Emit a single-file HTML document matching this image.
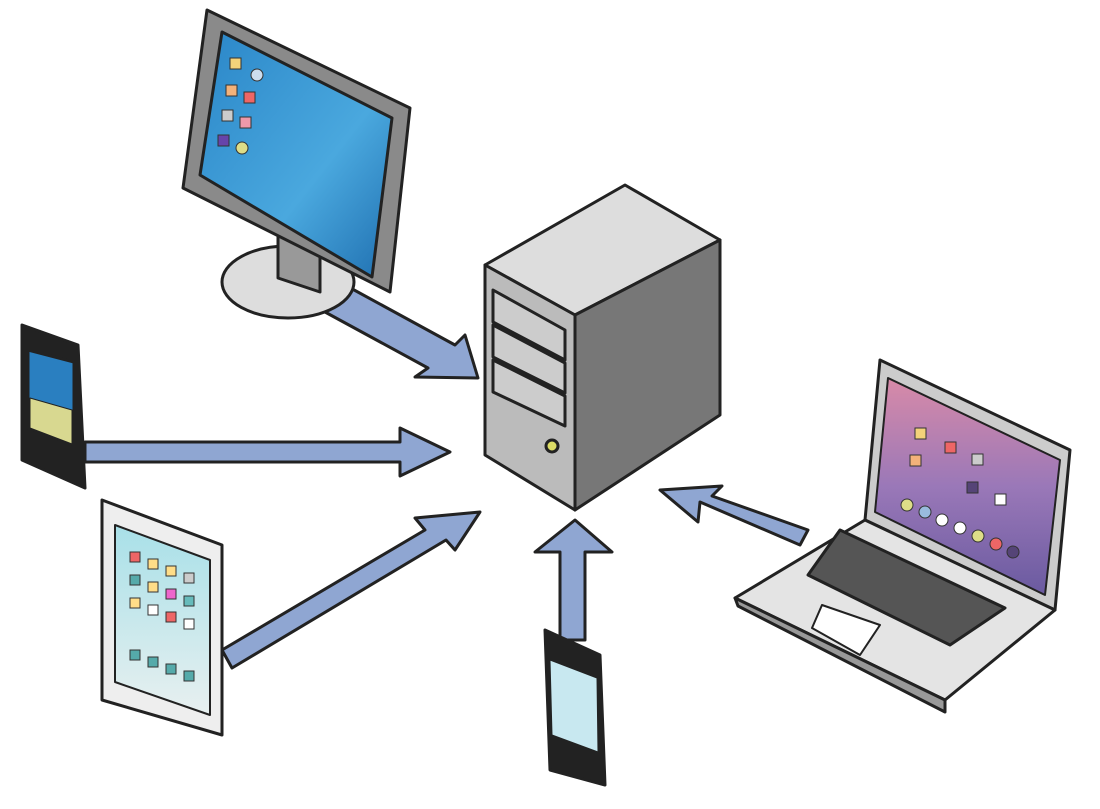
<!DOCTYPE html>
<html><head><meta charset="utf-8"><style>
html,body{margin:0;padding:0;background:#fff;width:1100px;height:809px;overflow:hidden}
</style></head><body>
<svg width="1100" height="809" viewBox="0 0 1100 809" xmlns="http://www.w3.org/2000/svg">
<defs>
<linearGradient id="scr" x1="0" y1="0" x2="1" y2="1"><stop offset="0" stop-color="#2a86c8"/><stop offset="0.6" stop-color="#4aa8de"/><stop offset="1" stop-color="#1f6fb0"/></linearGradient>
<linearGradient id="mac" x1="0" y1="0" x2="0" y2="1"><stop offset="0" stop-color="#d88aa8"/><stop offset="0.5" stop-color="#9a78b8"/><stop offset="1" stop-color="#6a5aa0"/></linearGradient>
<linearGradient id="pad" x1="0" y1="0" x2="0" y2="1"><stop offset="0" stop-color="#a8e0e8"/><stop offset="1" stop-color="#e8f0f0"/></linearGradient>
</defs>
<g stroke="#222" stroke-width="3" stroke-linejoin="round">
<g fill="#8fa6d2">
<polygon points="335,300 345,285 455,345 465,335 478,378 415,377 428,368 325,312"/>
<polygon points="85,442 400,442 400,428 450,452 400,476 400,462 85,462"/>
<polygon points="222,650 425,530 415,518 480,512 455,550 446,540 232,668"/>
<polygon points="560,640 560,552 535,552 575,520 612,552 585,552 585,640"/>
<polygon points="800,545 700,502 698,522 660,490 722,486 712,496 808,530"/>
</g>
<ellipse cx="288" cy="282" rx="66" ry="36" fill="#ddd"/>
<polygon points="278,235 320,250 320,292 278,278" fill="#999"/>
<polygon points="207,10 410,108 390,292 183,188" fill="#8a8a8a"/>
<polygon points="222,32 392,118 372,277 200,175" fill="url(#scr)"/>
<polygon points="485,265 625,185 720,240 575,315" fill="#ddd"/>
<polygon points="575,315 720,240 720,415 575,510" fill="#777"/>
<polygon points="485,265 575,315 575,510 485,455" fill="#bbb"/>
<polygon points="493,290 565,330 565,360 493,322" fill="#ccc"/>
<polygon points="493,325 565,363 565,393 493,357" fill="#ccc"/>
<polygon points="493,360 565,396 565,426 493,392" fill="#ccc"/>
<circle cx="552" cy="446" r="6" fill="#dd6"/>
<polygon points="22,325 78,345 85,488 22,460" fill="#222"/>
<polygon points="28,350 74,362 74,445 28,428" fill="#2a7fc0"/>
<polygon points="30,398 72,410 72,444 30,428" fill="#d8d890" stroke-width="1"/>
<polygon points="102,500 222,545 222,735 102,700" fill="#eee"/>
<polygon points="115,525 210,560 210,715 115,682" fill="url(#pad)" stroke-width="2"/>
<polygon points="545,630 600,655 605,785 550,770" fill="#222"/>
<polygon points="550,660 597,678 598,752 552,735" fill="#c8e8f0" stroke-width="1"/>
<polygon points="880,360 1070,450 1055,610 865,520" fill="#ccc"/>
<polygon points="888,378 1060,460 1045,595 875,512" fill="url(#mac)" stroke-width="2"/>
<polygon points="865,520 1055,610 945,700 735,598" fill="#e4e4e4"/>
<polygon points="840,530 1005,608 950,645 808,575" fill="#555"/>
<polygon points="822,605 880,625 860,655 812,628" fill="#fff" stroke-width="2"/>
<polygon points="735,598 945,700 945,712 738,606" fill="#999"/>
</g>
<g stroke="#333" stroke-width="1">
<rect x="230" y="58" width="11" height="11" fill="#f3d27a"/><circle cx="257" cy="75" r="6" fill="#cde"/>
<rect x="226" y="85" width="11" height="11" fill="#f3b27a"/><rect x="244" y="92" width="11" height="11" fill="#e66"/>
<rect x="222" y="110" width="11" height="11" fill="#ccc"/><rect x="240" y="117" width="11" height="11" fill="#e9a"/>
<rect x="218" y="135" width="11" height="11" fill="#64a"/><circle cx="242" cy="148" r="6" fill="#dd8"/>
<rect x="130" y="552" width="10" height="10" fill="#e66"/><rect x="148" y="559" width="10" height="10" fill="#fd8"/><rect x="166" y="566" width="10" height="10" fill="#fd8"/><rect x="184" y="573" width="10" height="10" fill="#ccc"/>
<rect x="130" y="575" width="10" height="10" fill="#5aa"/><rect x="148" y="582" width="10" height="10" fill="#fd8"/><rect x="166" y="589" width="10" height="10" fill="#e6c"/><rect x="184" y="596" width="10" height="10" fill="#6bb"/>
<rect x="130" y="598" width="10" height="10" fill="#fd8"/><rect x="148" y="605" width="10" height="10" fill="#fff"/><rect x="166" y="612" width="10" height="10" fill="#e66"/><rect x="184" y="619" width="10" height="10" fill="#fff"/>
<rect x="130" y="650" width="10" height="10" fill="#5aa"/><rect x="148" y="657" width="10" height="10" fill="#5aa"/><rect x="166" y="664" width="10" height="10" fill="#5aa"/><rect x="184" y="671" width="10" height="10" fill="#5aa"/>
<rect x="915" y="428" width="11" height="11" fill="#f3d27a"/><rect x="945" y="442" width="11" height="11" fill="#e66"/><rect x="972" y="454" width="11" height="11" fill="#ccc"/>
<rect x="910" y="455" width="11" height="11" fill="#f3b27a"/><rect x="967" y="482" width="11" height="11" fill="#547"/><rect x="995" y="494" width="11" height="11" fill="#fff"/>
<circle cx="907" cy="505" r="6" fill="#dd8"/><circle cx="925" cy="512" r="6" fill="#9bd"/><circle cx="942" cy="520" r="6" fill="#fff"/><circle cx="960" cy="528" r="6" fill="#fff"/><circle cx="978" cy="536" r="6" fill="#dd8"/><circle cx="996" cy="544" r="6" fill="#e66"/><circle cx="1013" cy="552" r="6" fill="#547"/>
</g>
</svg>
</body></html>
